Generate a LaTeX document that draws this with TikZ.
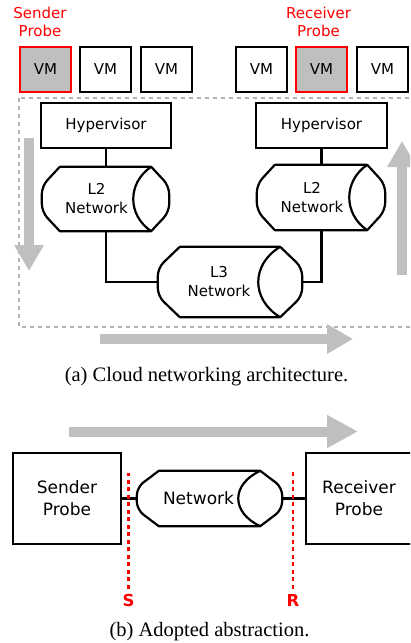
\documentclass[tikz,border=0pt]{standalone}
\usepackage{fontspec}
\setmainfont{DejaVu Sans}
\newfontfamily\capfont{Liberation Serif}
\usepackage{tikz}
\usetikzlibrary{arrows.meta,calc}

\tikzset{
  box/.style={draw, line width=2.2pt, minimum width=51, minimum height=45, inner sep=0, align=center, font=\fontsize{15}{18}\selectfont},
  probevm/.style={box, draw=red, fill=black!25},
  hyp/.style={box, minimum width=130},
  bigbox/.style={box, minimum width=108, minimum height=91, font=\fontsize{17}{22}\selectfont},
  netbody/.style={minimum width=109, minimum height=64, inner sep=0, align=center, font=\fontsize{15}{19}\selectfont},
  netline/.style={line width=2.2pt, line join=round, line cap=round},
  wire/.style={line width=2.2pt},
  redtext/.style={red, align=center, font=\fontsize{15}{18}\selectfont},
  frame/.style={draw=black!30, line width=1.5pt, dash pattern=on 4pt off 4pt},
  flow/.style={draw=black!25, line width=10pt, -{Triangle[width=28pt,length=26pt]}},
  cut/.style={red, line width=2.5pt, dash pattern=on 4pt off 3.5pt},
  cutlbl/.style={red, inner sep=1pt, font=\bfseries\fontsize{16.5}{19}\selectfont},
  capt/.style={font=\capfont\fontsize{20.5}{24}\selectfont}
}

% network pipe around a node: #1 node name, #2 depth of the end caps
\newcommand{\netcyl}[2]{%
  \draw[netline] let \p1=(#1.north west), \p2=(#1.south east),
      \n1={0.3*(\y1-\y2)}, \n2={0.25*(\y1-\y2)} in
    (\x1+#2pt,\y1) -- (\x2,\y1) (\x1+#2pt,\y2) -- (\x2,\y2)
    [rounded corners=8pt]
    (\x1+#2pt,\y1) -- (\x1,\y1-\n1) -- (\x1,\y2+\n1) -- (\x1+#2pt,\y2)
    (\x2,\y1) -- (\x2+#2pt,\y1-\n1) -- (\x2+#2pt,\y2+\n1) -- (\x2,\y2)
    [sharp corners]
    (\x2,\y1) .. controls (\x2-1.33*#2pt,\y1-\n2) and (\x2-1.33*#2pt,\y2+\n2) .. (\x2,\y2);
}

\begin{document}
\begin{tikzpicture}[x=1pt,y=-1pt]
\useasboundingbox (0,0) rectangle (410,643);
\clip (0,0) rectangle (410,643);

% (a) cloud setup
\node[redtext] (sendlbl) at (40,22) {Sender\\Probe};
\node[redtext] (recvlbl) at (318.5,22) {Receiver\\Probe};

\node[probevm] (vm1) at (45.5,69.5) {VM};
\node[box] (vm2) at (105.5,69.5) {VM};
\node[box] (vm3) at (166.5,69.5) {VM};
\node[box] (vm4) at (261.5,69.5) {VM};
\node[probevm] (vm5) at (321.5,69.5) {VM};
\node[box] (vm6) at (382.5,69.5) {VM};

\draw[frame] (19,98) rectangle (425,327);

\node[hyp] (hypl) at (106,125.5) {Hypervisor};
\node[hyp, minimum width=131] (hypr) at (321.5,125.5) {Hypervisor};

\node[netbody] (l2l) at (96.5,199) {L2\\Network};
\netcyl{l2l}{18}
\node[netbody, minimum width=110, minimum height=65] (l2r) at (312,197.5) {L2\\Network};
\netcyl{l2r}{18}
\node[netbody, minimum width=122, minimum height=70] (l3) at (219,282) {L3\\Network};
\netcyl{l3}{22}

\draw[wire] (hypl.south) -- (hypl.south |- l2l.north);
\draw[wire] (hypl.south |- l2l.south) |- (l3.west);
\draw[wire] ([xshift=22pt]l3.east) -| (hypr.south |- l2r.south);
\draw[wire] (hypr.south) -- (hypr.south |- l2r.north);

\coordinate (dn0) at (29,138);
\coordinate (dn1) at (29,271);
\coordinate (up0) at (402,275);
\coordinate (up1) at (402,141);
\coordinate (rt0) at (100,339);
\coordinate (rt1) at (353,339);
\draw[flow] (dn0) -- (dn1);
\draw[flow] (up0) -- (up1);
\draw[flow] (rt0) -- (rt1);

\node[capt] (capa) at (206.5,377) {(a) Cloud networking architecture.};

% (b) abstraction
\coordinate (rt2) at (69,431.5);
\coordinate (rt3) at (358,431.5);
\draw[flow, -{Triangle[width=31pt,length=31pt]}] (rt2) -- (rt3);

\node[bigbox] (sender) at (67,498.5) {Sender\\Probe};
\node[bigbox, minimum width=106] (receiver) at (359,498.5) {Receiver\\Probe};
\node[netbody, minimum width=123, minimum height=55, font=\fontsize{17}{20}\selectfont] (net) at (198.5,498.5) {Network};
\netcyl{net}{22}

\draw[wire] (sender.east) -- (net.west);
\draw[wire] ([xshift=22pt]net.east) -- (receiver.west);

\node[cutlbl] (S) at (128.5,600) {S};
\node[cutlbl] (R) at (293,600) {R};
\coordinate (stop) at (128.5,473);
\coordinate (rtop) at (293,472);
\draw[cut] ([yshift=4pt]S.north) -- (stop);
\draw[cut] ([yshift=4pt]R.north) -- (rtop);

\node[capt] (capb) at (209.5,632) {(b) Adopted abstraction.};
\end{tikzpicture}
\end{document}
